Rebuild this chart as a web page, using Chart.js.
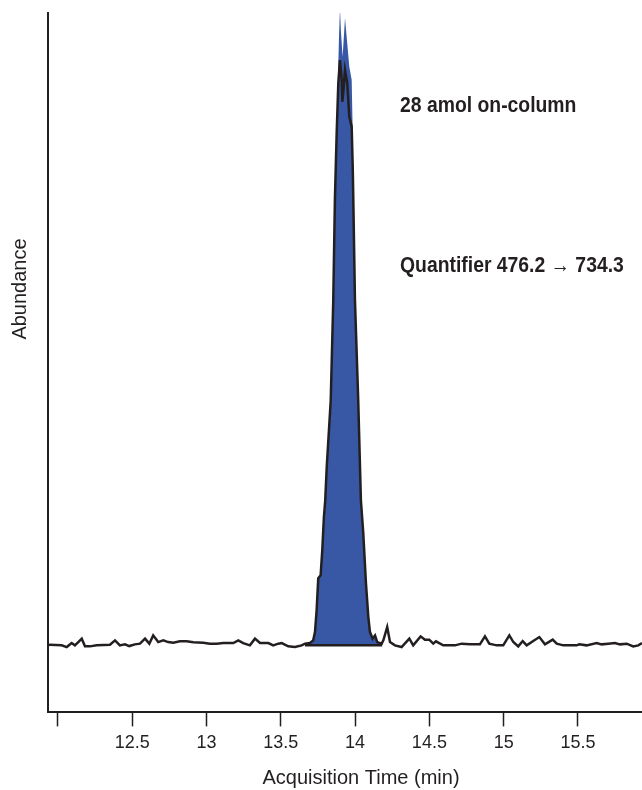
<!DOCTYPE html>
<html>
<head>
<meta charset="utf-8">
<script src="https://cdn.jsdelivr.net/npm/chart.js@4.4.1/dist/chart.umd.min.js"></script>
<style>
  html, body { margin: 0; padding: 0; background: #fff; }
  #wrap { width: 642px; height: 790px; position: relative; }
</style>
</head>
<body>
<div id="wrap"><canvas id="chrom"></canvas></div>
<script>
// --- chromatogram trace (time in min, abundance in arbitrary counts) ---
const traceTime = [
  11.933, 11.946, 12.025, 12.059, 12.092, 12.114, 12.137, 12.160, 12.182, 12.215,
  12.260, 12.350, 12.384, 12.417, 12.451, 12.480, 12.518, 12.552, 12.586, 12.615,
  12.641, 12.675, 12.709, 12.742, 12.776, 12.821, 12.866, 12.911, 12.978, 13.023,
  13.068, 13.113, 13.180, 13.214, 13.247, 13.292, 13.326, 13.360, 13.416, 13.449,
  13.483, 13.506, 13.550, 13.595, 13.640, 13.663, 13.696, 13.718, 13.730, 13.741,
  13.752, 13.768, 13.779, 13.790, 13.799, 13.809, 13.836, 13.853, 13.864, 13.876,
  13.887, 13.898, 13.910, 13.914, 13.920, 13.932, 13.947, 13.961, 13.977, 13.984,
  13.988, 13.999, 14.021, 14.039, 14.055, 14.073, 14.089, 14.100, 14.118, 14.134,
  14.149, 14.179, 14.190, 14.216, 14.235, 14.268, 14.313, 14.365, 14.391, 14.441,
  14.470, 14.499, 14.526, 14.544, 14.593, 14.672, 14.717, 14.773, 14.840, 14.874,
  14.903, 14.953, 14.997, 15.038, 15.065, 15.098, 15.128, 15.155, 15.199, 15.240,
  15.278, 15.330, 15.357, 15.401, 15.491, 15.509, 15.558, 15.626, 15.659, 15.704,
  15.749, 15.783, 15.828, 15.872, 15.906, 15.931
];
const traceAbund = [
  0, 7, 0, -17, 23, 0, 33, 67, -10, -10,
  0, 7, 50, 0, 10, -7, 10, 17, 67, 17,
  100, 33, 50, 33, 27, 40, 40, 30, 27, 17,
  17, 23, 23, 50, 23, 0, 67, 23, 23, 0,
  17, 23, -10, -17, 0, 17, 23, 50, 133, 350,
  670, 700, 950, 1283, 1450, 1783, 2450, 3450, 4450, 5120,
  5620, 5850, 5650, 5433, 5520, 5750, 5620, 5283, 5183, 4783,
  4450, 3450, 2450, 1450, 1120, 620, 283, 133, 67, 100,
  33, 17, 50, 183, 33, 0, -17, 67, 0, 90,
  57, 57, 17, 40, 0, 0, 17, 10, 10, 90,
  17, 0, 0, 100, 33, -10, 43, 0, 43, 83,
  10, 57, 17, 0, 0, 10, 0, 23, 10, 17,
  23, 10, 17, -10, 0, 23
];

// --- integrated peak area (blue fill) ---
const peakTime = [
  13.663, 13.696, 13.718, 13.730, 13.741, 13.752, 13.768, 13.779, 13.790, 13.799,
  13.809, 13.836, 13.853, 13.864, 13.876, 13.881, 13.891, 13.898, 13.904, 13.916,
  13.932, 13.945, 13.961, 13.977, 13.984, 13.988, 13.999, 14.021, 14.039, 14.055,
  14.073, 14.089, 14.100, 14.118, 14.134, 14.149, 14.179
];
const peakAbund = [
  17, 23, 50, 133, 350, 670, 700, 950, 1283, 1450,
  1783, 2450, 3450, 4450, 5120, 5450, 6050, 6370, 6150, 5880,
  6270, 6050, 5783, 5650, 5120, 4450, 3450, 2450, 1450, 1120,
  620, 283, 133, 67, 100, 33, 17
];

// integration baseline drawn under the peak
const baseTime = [13.663, 14.182];
const baseAbund = [0, 0];

const xTicks = [12, 12.5, 13, 13.5, 14, 14.5, 15, 15.5];

const xTitle = 'Acquisition Time (min)';
const yTitle = 'Abundance';

const notes = [
  { text: '28 amol on-column', x: 400, y: 112 },
  { text: 'Quantifier 476.2 \u2192 734.3', x: 400, y: 272 }
];

const toPts = (xs, ys) => xs.map((x, i) => ({ x: x, y: ys[i] }));

const ink = '#231f20';
const sans = "'Liberation Sans', Arial, sans-serif";

// axis titles (placed off-centre like the original) and the bold notes
const textPlugin = {
  id: 'texts',
  afterDraw(chart) {
    const ctx = chart.ctx;
    ctx.save();
    ctx.fillStyle = ink;
    ctx.font = '20px ' + sans;
    ctx.textAlign = 'center';
    ctx.textBaseline = 'alphabetic';
    ctx.fillText(xTitle, 361, 784);
    ctx.translate(26, 289);
    ctx.rotate(-Math.PI / 2);
    ctx.fillText(yTitle, 0, 0);
    ctx.restore();

    notes.forEach(n => {
      ctx.save();
      ctx.fillStyle = ink;
      ctx.font = 'bold 22px ' + sans;
      ctx.textBaseline = 'alphabetic';
      ctx.translate(n.x, n.y);
      ctx.scale(0.88, 1);   // squeeze to look like a condensed face
      ctx.fillText(n.text, 0, 0);
      ctx.restore();
    });
  }
};

new Chart(document.getElementById('chrom'), {
  type: 'line',
  data: {
    datasets: [
      {
        data: toPts(traceTime, traceAbund),
        borderColor: ink,
        borderWidth: 2.5,
        pointRadius: 0,
        tension: 0,
        fill: false,
        clip: false,
        order: 0
      },
      {
        data: toPts(baseTime, baseAbund),
        borderColor: ink,
        borderWidth: 2.5,
        pointRadius: 0,
        fill: false,
        order: 1
      },
      {
        data: toPts(peakTime, peakAbund),
        borderWidth: 0,
        borderColor: 'rgba(0,0,0,0)',
        backgroundColor: '#3858a6',
        pointRadius: 0,
        tension: 0,
        fill: 'origin',
        clip: false,
        order: 2
      }
    ]
  },
  options: {
    responsive: true,
    maintainAspectRatio: false,
    animation: false,
    layout: { padding: { top: 13, left: 48, right: 0, bottom: 30 } },
    plugins: {
      legend: { display: false },
      tooltip: { enabled: false }
    },
    scales: {
      x: {
        type: 'linear',
        min: 11.933,
        max: 15.931,
        afterBuildTicks: axis => { axis.ticks = xTicks.map(v => ({ value: v })); },
        ticks: {
          autoSkip: false,
          maxRotation: 0,
          padding: 6,
          color: ink,
          font: { family: sans, size: 18 },
          callback: v => v === 12 ? '' : String(v)
        },
        grid: {
          display: true,
          drawOnChartArea: false,
          drawTicks: true,
          tickLength: 14,
          tickColor: ink,
          tickWidth: 1.5
        },
        border: { display: true, color: ink, width: 2 },
        title: { display: false }
      },
      y: {
        min: -670,
        max: 6320,
        ticks: { display: false },
        grid: { display: false, drawTicks: false },
        border: { display: true, color: ink, width: 2 },
        title: { display: false }
      }
    }
  },
  plugins: [textPlugin]
});
</script>
</body>
</html>
